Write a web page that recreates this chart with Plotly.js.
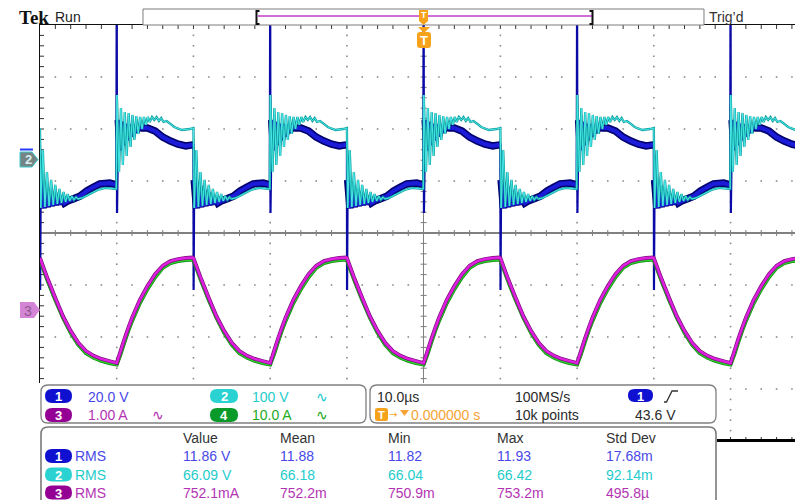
<!DOCTYPE html>
<html><head><meta charset="utf-8">
<script src="https://cdn.plot.ly/plotly-3.0.1.min.js"></script>
<style>html,body{margin:0;padding:0;background:#fff;overflow:hidden}#plot{width:795px;height:500px}#err{position:absolute;left:60px;top:60px;font:11px monospace;color:red;white-space:pre-wrap;width:700px}</style>
</head><body><div id="plot"></div><div id="err"></div>
<script>
window.onerror = function(m, s, l, c, e){ document.getElementById('err').textContent += 'ERR: ' + m + ' ' + (e && e.stack) + '\n'; };
// ---------- DATA (one 20 µs switching period, τ in µs after the falling edge) ----------
const periodStarts = [-50, -30, -10, 10, 30, 50];          // µs, falling edges on screen
// Channel 1 (20 V/div)
const tauCh1 = [0,0.02,0.1,0.4,0.67,0.94,1.21,1.48,1.75,2.02,2.3,2.6,2.9,3.2,3.6,4.3,5.2,6.1,7,7.8,9.1,9.95,10.0,10.04,10.2,10.45,10.7,10.95,11.2,11.45,11.7,11.95,12.2,12.5,12.8,13.3,14,15,16,17,18,19,19.9];
const ch1Volts = [3.5,-52.3,-10.0,-20.8,-12.3,-20.4,-13.8,-20.0,-15.0,-19.6,-16.2,-19.2,-16.9,-18.8,-18.1,-17.3,-16.2,-14.2,-12.7,-11.5,-11.2,-11.9,66.9,-22.7,13.1,1.5,12.3,3.5,11.5,5.4,11.2,6.9,10.8,8.5,10.4,10.0,10.0,8.8,6.5,5.0,3.8,3.1,3.5];
// Channel 2 (100 V/div)
const tauCh2 = [0,0.1,0.37,0.64,0.91,1.18,1.45,1.72,1.99,2.26,2.53,2.8,3.07,3.34,3.61,3.88,4.15,4.42,4.69,4.96,5.5,6.5,7.5,8.5,9.95,10.02,10.3,10.55,10.8,11.05,11.3,11.55,11.8,12.05,12.3,12.55,12.8,13.05,13.3,13.55,13.8,14.05,14.3,14.6,14.9,15.2,15.5,15.8,16.1,16.5,17.0,17.5,18.5,19.5];
const ch2Volts = [55.8,-98.1,13.5,-96.2,-28.8,-94.2,-44.2,-92.3,-53.8,-90.4,-61.5,-88.5,-67.3,-86.5,-71.2,-84.6,-75.0,-82.7,-76.9,-80.8,-78.8,-71.2,-63.5,-59.6,-61.5,119.2,-28.8,94.2,-15.4,86.5,1.9,84.6,19.2,80.8,32.7,78.8,44.2,76.9,53.8,76.9,61.5,76.9,67.3,76.9,71.2,76.9,69.2,75.0,67.3,69.2,63.5,57.7,51.9,53.8];
// Channels 3 (1 A/div) and 4 (10 A/div)
const tauCur = [0,1,2,3,4,5,6,7,8,9,10,10.5,11,11.5,12,13,14,15,16,17,18,19,19.9];
const ch3Amps = [1.00,0.60,0.23,-0.12,-0.40,-0.63,-0.79,-0.88,-0.94,-0.98,-1.02,-0.79,-0.56,-0.35,-0.15,0.19,0.46,0.69,0.85,0.94,0.98,1.00,1.01];
const ch4Amps = [9.8,5.8,2.1,-1.3,-4.2,-6.5,-8.1,-9.0,-9.6,-10.0,-10.3,-8.3,-6.0,-3.8,-1.9,1.5,4.2,6.5,8.3,9.2,9.6,9.8,9.9];
// Channel settings
const chScale = [20, 100, 1, 10];               // units per division
const chGroundDiv = [1.519, 1.462, -1.481, -1.5]; // ground marker position, divisions from centre
// Readouts
const chLabels = ['20.0 V', '100 V', '1.00 A', '10.0 A'];
const timeReadout = ['10.0µs', '100MS/s', '10k points', '43.6 V', '0.000000 s'];
const measHeaders = ['Value', 'Mean', 'Min', 'Max', 'Std Dev'];
const measCh1 = ['11.86 V', '11.88', '11.82', '11.93', '17.68m'];
const measCh2 = ['66.09 V', '66.18', '66.04', '66.42', '92.14m'];
const measCh3 = ['752.1mA', '752.2m', '750.9m', '753.2m', '495.8µ'];

// ---------- geometry helpers ----------
const L = 40, T = 25, PW = 755, PH = 416;
const X = px => (px - L) / PW;
const Y = py => (T + PH - py) / PH;
const P = (x, y) => X(x).toFixed(5) + ',' + Y(y).toFixed(5);
const FONT = 'Liberation Sans, Arial, sans-serif';
const shapes = [], annotations = [];
function addPath(d, fill, line, lw) {
  shapes.push({type:'path', xref:'paper', yref:'paper', path:d, layer:'above',
    fillcolor: fill || 'rgba(0,0,0,0)', line:{color: line || 'rgba(0,0,0,0)', width: lw || 0}});
}
function rr(x0, y0, x1, y1, r) {
  return 'M' + P(x0 + r, y0) + ' L' + P(x1 - r, y0) + ' Q' + P(x1, y0) + ' ' + P(x1, y0 + r) +
    ' L' + P(x1, y1 - r) + ' Q' + P(x1, y1) + ' ' + P(x1 - r, y1) + ' L' + P(x0 + r, y1) +
    ' Q' + P(x0, y1) + ' ' + P(x0, y1 - r) + ' L' + P(x0, y0 + r) + ' Q' + P(x0, y0) + ' ' + P(x0 + r, y0) + ' Z';
}
function poly(pts, close) { return 'M' + pts.map(p => P(p[0], p[1])).join(' L') + (close ? ' Z' : ''); }
function txt(s, x, y, color, size, opts) {
  annotations.push(Object.assign({text:s, xref:'paper', yref:'paper', x:X(x), y:Y(y), xanchor:'left', yanchor:'middle',
    showarrow:false, borderpad:0, borderwidth:0, font:{family:FONT, size:size || 14, color:color}}, opts || {}));
}
function ctxt(s, x, y, color, size, opts) { txt(s, x, y, color, size, Object.assign({xanchor:'center'}, opts || {})); }
function badge(x0, y0, x1, y1, color, label) {
  addPath(rr(x0, y0, x1, y1, (y1 - y0) / 2), color, color, 0);
  ctxt('<b>' + label + '</b>', (x0 + x1) / 2, (y0 + y1) / 2 + 0.5, '#ffffff', 13);
}
function axLine(x0, x1, y0, y1, color, w, layer) {
  shapes.push({type:'line', xref:'x', yref:'y', x0, x1, y0, y1, layer: layer || 'below', line:{color, width:w}});
}

// ---------- graticule (dots and tick marks, in axis units) ----------
const xRange = [-50, 48.4];
const divX = [-40, -30, -20, -10, 10, 20, 30, 40];
const divY = [-3, -2, -1, 1, 2, 3];
const dotX = [], dotY = [];
divX.forEach(t => { for (let k = -19; k <= 19; k++) { dotX.push(t); dotY.push(k / 5); } });
divY.forEach(d => { for (let t = -48; t <= 48; t += 2) { if (t % 10) { dotX.push(t); dotY.push(d); } } });
const pxPerUs = PW / (xRange[1] - xRange[0]), pxPerDiv = PH / 8;
for (let t = -48; t <= 48; t += 2) {
  axLine(t, t, 4, 4 - 4 / pxPerDiv, '#333', 1);          // top border ticks
  axLine(t, t, -4, -4 + 4 / pxPerDiv, '#333', 1);        // bottom border ticks
  if (t !== 0) axLine(t, t, -3 / pxPerDiv, 3 / pxPerDiv, '#7a7a7a', 1);  // centre horizontal line ticks
}
for (let k = -19; k <= 19; k++) {
  const d = k / 5;
  axLine(-50, -50 + 4 / pxPerUs, d, d, '#333', 1);       // left border ticks
  if (k !== 0) axLine(-3 / pxPerUs, 3 / pxPerUs, d, d, '#7a7a7a', 1);   // centre vertical line ticks
}

// ---------- traces ----------
function tile(tau, vals, keep) {
  const x = [], y = [];
  periodStarts.forEach(t0 => tau.forEach((t, i) => {
    x.push(+(t0 + t).toFixed(3));
    y.push(keep && !keep(t) ? null : vals[i]);
  }));
  return {x, y};
}
const notSpike = t => !((t > 0 && t < 0.1) || (t >= 10 && t < 10.1));
const c1 = tile(tauCh1, ch1Volts), c1b = tile(tauCh1, ch1Volts, notSpike);
const c2 = tile(tauCh2, ch2Volts), c3 = tile(tauCur, ch3Amps), c4 = tile(tauCur, ch4Amps);
function tr(d, ya, color, w) {
  return {x:d.x, y:d.y, xaxis:'x', yaxis:ya, type:'scatter', mode:'lines', connectgaps:false, hoverinfo:'skip',
    line:{color:color, width:w, simplify:false}};
}
// overlay order: y2 (ch1) < y3 (ch2) < y4 (ch4) < y5 (ch3)
const traces = [
  {x:dotX, y:dotY, xaxis:'x', yaxis:'y', type:'scatter', mode:'markers', hoverinfo:'skip',
    marker:{symbol:'square', size:1.6, color:'#8a8a8a', line:{width:0}}},
  tr(c1, 'y2', '#0a0aa6', 2.2),
  tr(c1b, 'y2', '#00006e', 7.5),
  tr(c1b, 'y2', '#1c1cd8', 4.2),
  tr(c2, 'y3', '#0e9c9c', 2.3),
  tr(c2, 'y3', '#48e8e8', 1.0),
  tr(c4, 'y4', '#138a13', 4.0),
  tr(c4, 'y4', '#2ad42a', 2.5),
  tr(c3, 'y5', '#7a107a', 3.8),
  tr(c3, 'y5', '#e020e0', 2.4)
];

// ---------- axes ----------
const chRange = i => [(-4 - chGroundDiv[i]) * chScale[i], (4 - chGroundDiv[i]) * chScale[i]];
const chAxis = i => ({overlaying:'y', anchor:'x', range:chRange(i), visible:false, fixedrange:true});

const layout = {
  width:795, height:500, margin:{l:40, r:0, t:25, b:59, pad:0},
  paper_bgcolor:'#ffffff', plot_bgcolor:'#ffffff', showlegend:false,
  xaxis:{domain:[0, 1], range:xRange, showgrid:false, zeroline:true, zerolinecolor:'#808080', zerolinewidth:1.6,
    showline:true, linecolor:'#111', linewidth:1.2, mirror:true, ticks:'', showticklabels:false, fixedrange:true},
  yaxis:{domain:[0, 1], range:[-4, 4], showgrid:false, zeroline:true, zerolinecolor:'#808080', zerolinewidth:1.6,
    showline:true, linecolor:'#111', linewidth:1.2, mirror:false, ticks:'', showticklabels:false, fixedrange:true},
  yaxis2:chAxis(0), yaxis3:chAxis(1), yaxis4:chAxis(3), yaxis5:chAxis(2),
  shapes:shapes, annotations:annotations
};

// ---------- screen furniture ----------
// header
txt('<b>Tek</b>', 19, 17.5, '#111', 19, {font:{family:'Liberation Serif, Times New Roman, serif', size:19, color:'#111'}});
txt('Run', 55, 17.5, '#222', 14);
txt('Trig’d', 709, 17, '#333', 14);
addPath(poly([[143, 9], [704, 9], [704, 25], [143, 25]], true), '#ffffff', '#7d7d7d', 1);
shapes.push({type:'line', xref:'paper', yref:'paper', x0:X(258), x1:X(592), y0:Y(16), y1:Y(16), layer:'above', line:{color:'#c43cc8', width:1.6}});
addPath(poly([[259.5, 11], [256.5, 11], [256.5, 24], [259.5, 24]]), null, '#111', 2);
addPath(poly([[589.5, 11], [592.5, 11], [592.5, 24], [589.5, 24]]), null, '#111', 2);
// trigger markers
addPath(poly([[419, 10], [428, 10], [428, 21], [423.5, 25], [419, 21]], true), '#f7a21b', '#f7a21b', 0);
ctxt('<b>T</b>', 423.5, 15.5, '#ffffff', 9);
addPath(poly([[418, 27], [430, 27], [424, 33]], true), '#f7a21b', '#f7a21b', 0);
addPath(rr(417, 32, 431, 48, 3), '#f7a21b', '#f7a21b', 0);
ctxt('<b>T</b>', 424, 40.5, '#ffffff', 13);
// channel ground markers
shapes.push({type:'line', xref:'paper', yref:'paper', x0:X(20), x1:X(33), y0:Y(149.5), y1:Y(149.5), layer:'above', line:{color:'#2a3aff', width:2}});
addPath(poly([[20, 152], [32, 152], [38, 159.5], [32, 167], [20, 167]], true), '#758585', '#3ccccc', 1);
ctxt('<b>2</b>', 28, 160, '#d8f0f0', 13);
addPath(poly([[20, 302], [34, 302], [40, 310], [34, 318], [20, 318]], true), '#d585d5', '#d585d5', 0);
ctxt('3', 28, 310.5, '#8e5a8e', 14);
// lower panels
addPath(poly([[38, 383], [717, 383], [717, 500], [38, 500]], true), '#ffffff', '#ffffff', 0);
shapes.push({type:'line', xref:'paper', yref:'paper', x0:X(717), x1:X(795), y0:Y(440.5), y1:Y(440.5), layer:'above', line:{color:'#000', width:3}});
addPath(rr(41, 385, 366, 423, 7), null, '#808080', 1.3);
addPath(rr(370, 385, 716, 423, 7), null, '#808080', 1.3);
addPath(rr(41, 427, 716, 530, 7), null, '#7a7a7a', 1.6);
// channel scale panel
const chColors = ['#4848e8', '#24cccc', '#b334b3', '#22aa22'];
const badgeColors = ['#1010d0', '#2ad2d2', '#940094', '#0a9a2a'];
badge(45, 389, 72, 403, badgeColors[0], '1'); txt(chLabels[0], 88, 396.5, chColors[0]);
badge(210, 389, 238, 403, badgeColors[1], '2'); txt(chLabels[1], 252, 396.5, chColors[1]); txt('∿', 316, 396.5, chColors[1], 14);
badge(45, 408, 72, 422, badgeColors[2], '3'); txt(chLabels[2], 88, 414.5, chColors[2]); txt('∿', 152, 414.5, chColors[2], 14);
badge(210, 408, 238, 422, badgeColors[3], '4'); txt(chLabels[3], 252, 414.5, chColors[3]); txt('∿', 316, 414.5, chColors[3], 14);
// timebase / trigger panel
txt(timeReadout[0], 377, 396.5, '#2a2a2a');
txt(timeReadout[1], 515, 396.5, '#2a2a2a');
badge(628, 389, 653, 402, badgeColors[0], '1');
addPath(poly([[664, 402], [666.5, 402], [672, 391], [678, 391]]), null, '#333', 1.3);
addPath(rr(375, 408, 388, 421, 2.5), '#f7a21b', '#f7a21b', 0);
ctxt('<b>T</b>', 381.5, 415, '#ffffff', 11);
txt('→', 388.5, 414.5, '#f5a335', 11, {font:{family:'DejaVu Sans', size:10, color:'#f5a335'}});
addPath(poly([[400, 410], [409, 410], [404.5, 416]], true), '#f5a335', '#f5a335', 0);
txt(timeReadout[4], 411, 414.5, '#f5a335');
txt(timeReadout[2], 515, 414.5, '#2a2a2a');
txt(timeReadout[3], 635, 414.5, '#2a2a2a');
// measurements
const colX = [183, 280, 388, 497, 606];
measHeaders.forEach((h, i) => txt(h, colX[i], 437.5, '#333'));
[[measCh1, 456, 0, '1'], [measCh2, 474.5, 1, '2'], [measCh3, 492.5, 2, '3']].forEach(([vals, yy, c, lab]) => {
  badge(45, yy - 7, 72, yy + 7, badgeColors[c], lab);
  txt('RMS', 75, yy, chColors[c]);
  vals.forEach((v, i) => txt(v, colX[i], yy, chColors[c]));
});

Plotly.newPlot('plot', traces, layout, {staticPlot:true, displayModeBar:false})
  .catch(e => { document.getElementById('err').textContent += 'PROMISE: ' + e + '\n' + (e && e.stack); });
</script>
</body></html>
